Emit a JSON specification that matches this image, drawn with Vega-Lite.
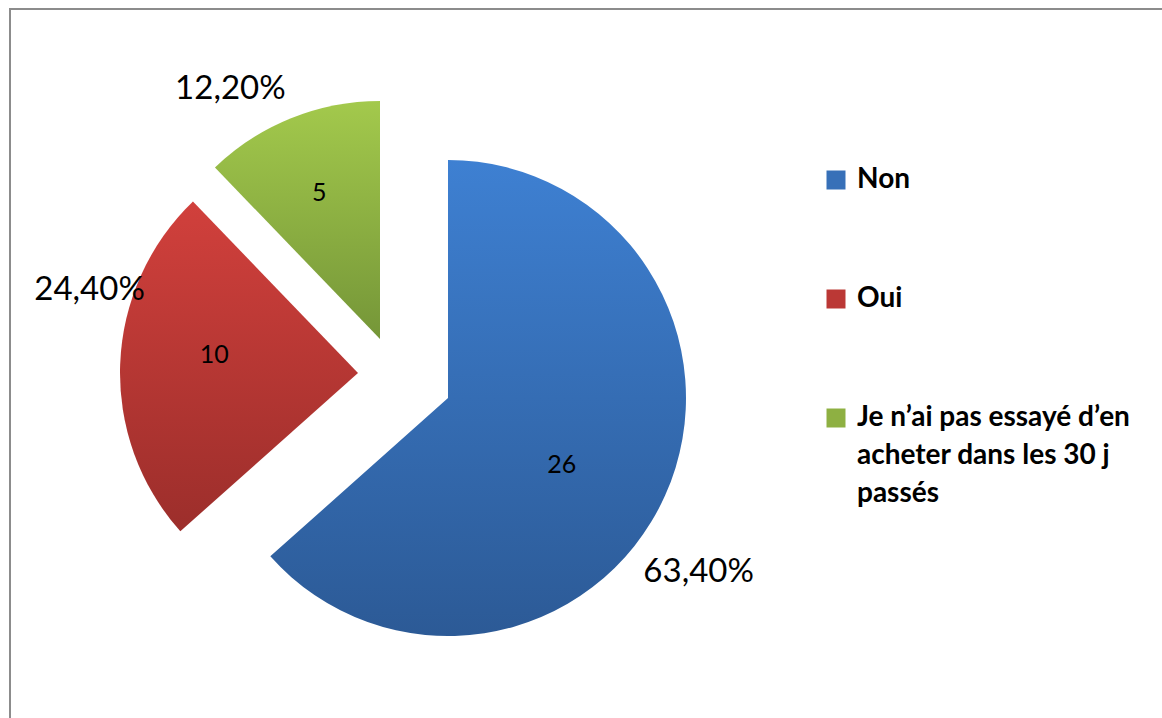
{
  "$schema": "https://vega.github.io/schema/vega-lite/v6.json",
  "autosize": "none",
  "width": 1152,
  "height": 709,
  "padding": {"left": 10, "top": 9, "right": 0, "bottom": 0},
  "background": "white",
  "config": {
    "view": {"stroke": null},
    "font": "Lato"
  },
  "data": {
    "values": [
      {"cat": "Non", "value": 26, "pct": "63,40%", "k": 1},
      {"cat": "Oui", "value": 10, "pct": "24,40%", "k": 2},
      {"cat": "Je n’ai pas essayé d’en acheter dans les 30 j passés", "value": 5, "pct": "12,20%", "k": 3}
    ]
  },
  "encoding": {
    "theta": {"field": "value", "type": "quantitative", "stack": true},
    "order": {"field": "k", "type": "quantitative"}
  },
  "layer": [
    {
      "mark": {"type": "rect", "fill": null, "fillOpacity": 0, "stroke": "#8c8c8c", "strokeWidth": 2, "x": 0, "y": 0, "x2": {"expr": "width + 20"}, "y2": {"expr": "height + 20"}},
      "encoding": {"theta": null, "order": null}
    },
    {
      "mark": {"type": "arc", "radius": 238, "opacity": 0},
      "encoding": {
        "color": {
          "field": "cat", "type": "nominal",
          "scale": {
            "domain": ["Non", "Oui", "Je n’ai pas essayé d’en acheter dans les 30 j passés"],
            "range": ["#3770b8", "#bb3835", "#8eb042"]
          },
          "legend": {
            "orient": "none",
            "legendX": 812,
            "legendY": 157,
            "title": null,
            "padding": 0,
            "symbolType": "square",
            "symbolSize": 361,
            "symbolStrokeWidth": 0,
            "symbolOpacity": 1,
            "labelFont": "Lato",
            "labelFontWeight": "bold",
            "labelFontSize": 28,
            "labelColor": "black",
            "labelLimit": 400,
            "labelOffset": 7,
            "rowPadding": 91,
            "labelExpr": "datum.label == 'Non' || datum.label == 'Oui' ? datum.label : ['Je n’ai pas essayé d’en', 'acheter dans les 30 j', 'passés']",
            "encode": {
              "labels": {"update": {"lineHeight": {"value": 38}}},
              "symbols": {"update": {"fill": [
                {"test": "datum.value === 'Non'", "value": {"gradient": "linear", "x1": 0, "y1": 0, "x2": 0, "y2": 1, "stops": [{"offset": 0, "color": "#3e80d2"}, {"offset": 1, "color": "#2c5a96"}]}},
                {"test": "datum.value === 'Oui'", "value": {"gradient": "linear", "x1": 0, "y1": 0, "x2": 0, "y2": 1, "stops": [{"offset": 0, "color": "#d1403c"}, {"offset": 1, "color": "#9c2e2b"}]}},
                {"value": {"gradient": "linear", "x1": 0, "y1": 0, "x2": 0, "y2": 1, "stops": [{"offset": 0, "color": "#a3c94c"}, {"offset": 1, "color": "#759638"}]}}
              ]}}
            }
          }
        }
      }
    },
    {
      "mark": {"type": "arc", "radius": 238, "xOffset": -138, "yOffset": 34.5,
        "color": {"gradient": "linear", "x1": 0, "y1": 0, "x2": 0, "y2": 1, "stops": [{"offset": 0, "color": "#3e80d2"}, {"offset": 1, "color": "#2c5a96"}]}},
      "encoding": {
        "opacity": {"condition": {"test": "datum.k === 1", "value": 1}, "value": 0}
      }
    },
    {
      "mark": {"type": "arc", "radius": 238, "xOffset": -228, "yOffset": 9.5,
        "color": {"gradient": "linear", "x1": 0, "y1": 0, "x2": 0, "y2": 1, "stops": [{"offset": 0, "color": "#d1403c"}, {"offset": 1, "color": "#9c2e2b"}]}},
      "encoding": {
        "opacity": {"condition": {"test": "datum.k === 2", "value": 1}, "value": 0}
      }
    },
    {
      "mark": {"type": "arc", "radius": 238, "xOffset": -206, "yOffset": -24.5,
        "color": {"gradient": "linear", "x1": 0, "y1": 0, "x2": 0, "y2": 1, "stops": [{"offset": 0, "color": "#a3c94c"}, {"offset": 1, "color": "#759638"}]}},
      "encoding": {
        "opacity": {"condition": {"test": "datum.k === 3", "value": 1}, "value": 0}
      }
    },
    {
      "mark": {"type": "text", "radius": 132, "thetaOffset": 0.11, "xOffset": -138, "yOffset": 34.5, "fontSize": 25, "color": "black", "align": "center", "baseline": "middle"},
      "encoding": {
        "text": {"field": "value", "type": "quantitative"},
        "opacity": {"condition": {"test": "datum.k === 1", "value": 1}, "value": 0}
      }
    },
    {
      "mark": {"type": "text", "radius": 145, "thetaOffset": 0.087, "xOffset": -228, "yOffset": 9.5, "fontSize": 25, "color": "black", "align": "center", "baseline": "middle"},
      "encoding": {
        "text": {"field": "value", "type": "quantitative"},
        "opacity": {"condition": {"test": "datum.k === 2", "value": 1}, "value": 0}
      }
    },
    {
      "mark": {"type": "text", "radius": 158, "thetaOffset": -0.012, "xOffset": -206, "yOffset": -24.5, "fontSize": 25, "color": "black", "align": "center", "baseline": "middle"},
      "encoding": {
        "text": {"field": "value", "type": "quantitative"},
        "opacity": {"condition": {"test": "datum.k === 3", "value": 1}, "value": 0}
      }
    },
    {
      "mark": {"type": "text", "radius": 305, "thetaOffset": 0.185, "xOffset": -138, "yOffset": 34.5, "fontSize": 33, "color": "black", "align": "center", "baseline": "middle"},
      "encoding": {
        "text": {"field": "pct", "type": "nominal"},
        "opacity": {"condition": {"test": "datum.k === 1", "value": 1}, "value": 0}
      }
    },
    {
      "mark": {"type": "text", "radius": 281, "thetaOffset": 0.262, "xOffset": -228, "yOffset": 9.5, "fontSize": 33, "color": "black", "align": "center", "baseline": "middle"},
      "encoding": {
        "text": {"field": "pct", "type": "nominal"},
        "opacity": {"condition": {"test": "datum.k === 2", "value": 1}, "value": 0}
      }
    },
    {
      "mark": {"type": "text", "radius": 291, "thetaOffset": -0.157, "xOffset": -206, "yOffset": -24.5, "fontSize": 33, "color": "black", "align": "center", "baseline": "middle"},
      "encoding": {
        "text": {"field": "pct", "type": "nominal"},
        "opacity": {"condition": {"test": "datum.k === 3", "value": 1}, "value": 0}
      }
    }
  ]
}
